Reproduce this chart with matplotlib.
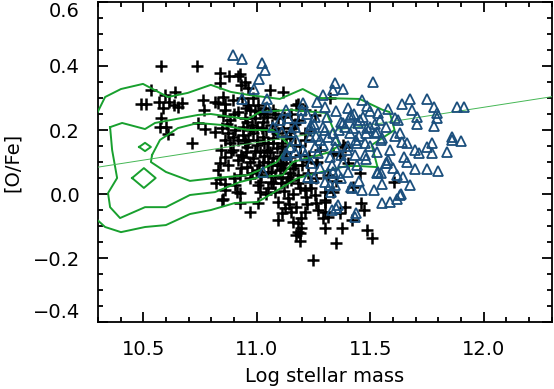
import numpy as np
import matplotlib
matplotlib.use("Agg")
import matplotlib.pyplot as plt
from matplotlib.ticker import MultipleLocator

plt.rcParams['font.family'] = ['DejaVu Sans']

# ---- data ----
# black crosses (log mass, [O/Fe])
cross_x = [
    10.577, 10.736, 10.533, 10.639, 10.595, 10.489, 10.511, 10.568, 10.612, 10.586,
    10.634, 10.652, 10.670, 10.577, 10.573, 10.599, 10.608, 10.714, 10.762, 10.767,
    10.815, 10.837, 10.877, 10.916, 10.837, 10.929, 10.850, 10.894, 10.859, 10.828,
    10.916, 10.850, 10.947, 10.740, 10.771, 10.815, 10.846, 10.872, 10.894, 10.859,
    10.916, 10.947, 10.841, 10.885, 10.929, 10.859, 10.819, 10.837, 10.846, 10.912,
    10.925, 10.837, 10.925, 10.947, 10.960, 11.057, 11.117, 11.171, 11.321, 11.387,
    10.934, 10.982, 11.004, 10.969, 11.013, 11.044, 11.070, 10.956, 10.991, 11.026,
    11.066, 11.114, 11.145, 11.158, 10.938, 10.982, 11.026, 11.070, 11.110, 11.145,
    10.956, 11.000, 11.044, 11.088, 11.123, 10.938, 10.982, 11.026, 11.070, 11.114,
    11.145, 10.956, 11.000, 11.048, 11.101, 11.145, 10.969, 11.013, 11.070, 11.132,
    11.220, 11.264, 11.334, 11.378, 11.365, 11.277, 10.859, 10.881, 10.903, 10.894,
    10.916, 10.872, 10.828, 10.925, 10.903, 10.859, 10.960, 11.035, 11.092, 11.022,
    10.978, 11.079, 10.947, 11.048, 11.167, 11.013, 11.066, 11.167, 11.189, 11.211,
    11.180, 11.233, 11.255, 11.211,
    11.092, 10.969, 11.004, 10.925, 11.013, 11.048, 11.061, 11.105, 11.092, 11.136,
    11.123, 11.149, 11.171, 11.211, 11.193, 11.158, 11.193, 11.171, 11.189, 11.246,
    11.347, 11.299, 11.290, 11.312, 11.299, 11.374, 11.484, 11.506, 11.471, 11.457,
    11.259, 11.215, 11.255, 11.299, 11.211, 11.180, 11.233, 11.180, 11.224, 11.259,
    11.400, 11.334, 11.422, 11.453, 11.312, 11.105, 11.061, 11.136, 11.004, 11.603,
    10.850, 11.189, 11.180, 11.299, 11.365,
    10.95, 10.99, 11.03, 11.08, 11.12, 10.94, 10.97, 11.00, 11.04, 11.09,
    11.13, 10.96, 11.00, 11.03, 11.07, 11.11, 10.95, 10.99, 11.03, 11.06,
    11.10, 11.13, 10.97, 11.01, 11.05, 11.09, 11.12, 11.16, 10.98, 11.02,
    11.08, 11.11, 11.15, 11.19, 11.04, 11.08, 11.12, 11.16, 11.14, 11.11,
    11.18, 11.22, 11.24, 11.20, 11.23, 11.19, 11.21, 11.17, 11.15, 11.18,
    10.90, 10.88, 10.87, 10.93, 10.90, 10.86, 11.26, 11.27, 11.30, 11.35,
    11.42, 11.39,
]
cross_y = [
    0.400, 0.400, 0.325, 0.319, 0.309, 0.281, 0.281, 0.288, 0.288, 0.269,
    0.278, 0.272, 0.284, 0.238, 0.209, 0.209, 0.188, 0.159, 0.294, 0.263,
    0.288, 0.378, 0.369, 0.369, 0.347, 0.341, 0.303, 0.294, 0.281, 0.284,
    0.256, 0.244, 0.238, 0.222, 0.203, 0.194, 0.206, 0.191, 0.178, 0.169,
    0.169, 0.159, 0.138, 0.131, 0.122, 0.116, 0.034, 0.047, -0.019, 0.006,
    -0.028, 0.097, 0.375, 0.350, 0.331, 0.325, 0.319, 0.278, 0.300, 0.147,
    0.300, 0.300, 0.278, 0.263, 0.253, 0.241, 0.263, 0.225, 0.238, 0.225,
    0.216, 0.206, 0.194, 0.206, 0.184, 0.191, 0.178, 0.175, 0.159, 0.175,
    0.147, 0.153, 0.138, 0.144, 0.131, 0.116, 0.113, 0.100, 0.113, 0.097,
    0.116, 0.084, 0.075, 0.069, 0.075, 0.066, 0.050, 0.038, 0.034, 0.038,
    0.100, 0.100, 0.128, 0.153, 0.122, 0.138, 0.263, 0.231, 0.200, 0.138,
    0.106, 0.091, 0.075, 0.059, 0.028, 0.013, 0.278, 0.269, 0.238, 0.206,
    0.216, 0.200, 0.169, 0.159, 0.153, 0.131, 0.091, 0.091, 0.122, 0.169,
    0.231, 0.200, 0.247, 0.263,
    -0.081, -0.056, -0.028, 0.003, 0.006, 0.019, 0.038, 0.034, -0.025, -0.013,
    -0.044, -0.056, -0.041, -0.056, -0.075, -0.088, -0.106, -0.128, -0.147, -0.206,
    -0.153, -0.106, -0.075, -0.072, -0.056, -0.106, -0.113, -0.138, -0.050, -0.028,
    -0.028, -0.009, -0.003, 0.006, 0.013, 0.034, 0.038, 0.059, 0.066, 0.097,
    0.097, 0.006, 0.022, 0.066, 0.059, 0.090, 0.069, 0.053, 0.028, 0.038,
    -0.016, -0.122, -0.119, -0.025, -0.059,
    0.27, 0.26, 0.25, 0.25, 0.24, 0.21, 0.20, 0.21, 0.20, 0.19,
    0.18, 0.17, 0.17, 0.16, 0.16, 0.15, 0.13, 0.135, 0.12, 0.13,
    0.12, 0.11, 0.10, 0.09, 0.10, 0.09, 0.08, 0.08, 0.065, 0.06,
    0.055, 0.05, 0.045, 0.02, 0.00, 0.005, 0.01, 0.00, -0.03, -0.06,
    -0.09, -0.03, 0.02, 0.09, 0.12, 0.15, 0.19, 0.22, 0.25, 0.28,
    0.25, 0.16, 0.22, 0.08, 0.05, 0.03, 0.05, -0.05, -0.02, 0.04,
    -0.08, -0.04,
]

# blue triangles
tri_x = [
    10.894, 10.934, 11.022, 11.035, 11.009, 10.987, 11.044, 10.934, 11.343, 11.378,
    11.334, 11.510, 11.462, 11.484, 11.290, 11.264, 11.299, 11.202, 11.576, 11.638,
    11.673, 11.752, 11.783, 11.880, 11.911, 11.686, 11.796, 11.704, 11.792, 11.704,
    11.783, 11.607, 11.532, 11.409, 11.453, 11.378, 11.422, 11.484, 11.528, 11.550,
    11.629, 11.638, 11.660, 11.858, 11.858, 11.902, 11.774, 11.752, 11.695, 11.713,
    11.774, 11.840, 11.647, 11.585, 11.576, 11.572, 11.695, 11.748, 11.800, 11.642,
    11.673, 11.629, 11.515, 11.462, 11.418, 11.321, 11.528, 11.202, 11.145, 11.132,
    11.277, 11.334, 11.321, 11.396, 11.440, 11.233, 11.290, 11.255, 11.198, 11.136,
    11.044, 11.546, 11.568, 11.616, 11.634, 11.616, 11.585, 11.550, 11.347, 11.330,
    11.356, 11.436, 11.431, 11.414, 11.326, 11.343, 11.312, 11.356, 11.369, 11.299,
    11.238, 11.167, 11.268, 11.431, 11.475, 11.400, 11.532, 11.127, 11.193, 11.238,
    11.149, 11.171, 11.233, 11.255, 11.369, 11.414, 11.387, 11.444, 11.497, 11.541,
    11.519, 11.546, 11.312, 11.290, 11.343, 11.436, 11.475, 11.127, 11.211, 11.110,
    11.026, 11.224, 11.334,
    11.22, 11.25, 11.31, 11.35, 11.40, 11.43, 11.47, 11.50, 11.52, 11.48,
    11.45, 11.41, 11.36, 11.30, 11.26, 11.35, 11.40, 11.50, 11.53, 11.48,
    11.44, 11.38, 11.33, 11.28, 11.25, 11.37, 11.45, 11.55, 11.60, 11.66,
    11.61, 11.57, 11.62, 11.17, 11.10, 11.07,
]
tri_y = [
    0.434, 0.422, 0.409, 0.388, 0.359, 0.328, 0.297, 0.297, 0.347, 0.328,
    0.325, 0.350, 0.294, 0.275, 0.309, 0.288, 0.272, 0.284, 0.266, 0.281,
    0.297, 0.297, 0.272, 0.272, 0.272, 0.263, 0.253, 0.241, 0.238, 0.219,
    0.213, 0.238, 0.253, 0.241, 0.231, 0.222, 0.206, 0.206, 0.194, 0.175,
    0.191, 0.163, 0.159, 0.178, 0.169, 0.166, 0.159, 0.147, 0.138, 0.128,
    0.128, 0.131, 0.116, 0.138, 0.106, 0.097, 0.078, 0.078, 0.072, 0.053,
    0.028, -0.003, 0.013, 0.013, 0.019, 0.028, 0.066, 0.138, 0.147, 0.122,
    0.169, 0.191, 0.116, 0.138, 0.159, 0.206, 0.209, 0.241, 0.263, 0.238,
    0.272, 0.066, 0.097, 0.059, 0.000, -0.016, -0.025, -0.028, -0.044, -0.050,
    -0.034, -0.059, -0.072, 0.022, 0.006, 0.028, 0.066, 0.066, 0.122, 0.038,
    0.097, 0.131, 0.128, 0.122, 0.122, 0.069, 0.069, 0.263, 0.238, 0.216,
    0.194, 0.169, 0.178, 0.147, 0.225, 0.247, 0.209, 0.222, 0.209, 0.231,
    0.191, 0.169, 0.178, 0.153, 0.147, 0.169, 0.159, 0.128, 0.122, 0.194,
    0.069, 0.053, 0.069,
    0.25, 0.22, 0.24, 0.26, 0.27, 0.25, 0.24, 0.26, 0.22, 0.19,
    0.18, 0.19, 0.20, 0.20, 0.18, 0.17, 0.15, 0.15, 0.13, 0.11,
    0.09, 0.10, 0.09, 0.08, 0.05, 0.05, 0.04, 0.03, 0.08, 0.10,
    0.18, 0.21, 0.23, 0.21, 0.23, 0.21,
]

# density contours (three levels + two small islands)
outer_x = [10.28, 10.331, 10.401, 10.498, 10.608, 10.696, 10.797, 10.885, 10.969, 11.101,
           11.202, 11.277, 11.453, 11.554, 11.585, 11.607, 11.506, 11.532, 11.453, 11.396,
           11.321, 11.268, 11.180, 11.092, 11.004, 10.903, 10.797, 10.705, 10.599, 10.507,
           10.401, 10.331, 10.28]
outer_y = [0.23, 0.303, 0.328, 0.344, 0.303, 0.316, 0.341, 0.319, 0.309, 0.297,
           0.328, 0.300, 0.297, 0.263, 0.256, 0.200, 0.153, 0.084, 0.0875, 0.0875,
           0.075, 0.066, 0.050, 0.0125, -0.025, -0.028, -0.050, -0.0625, -0.097, -0.103,
           -0.119, -0.103, -0.07]
middle_x = [10.353, 10.406, 10.507, 10.551, 10.740, 10.797, 10.885, 10.960, 11.013, 11.145,
            11.308, 11.365, 11.321, 11.158, 11.114, 11.013, 10.925, 10.815, 10.705, 10.599,
            10.507, 10.397, 10.353, 10.344, 10.384, 10.362, 10.353]
middle_y = [0.209, 0.222, 0.203, 0.222, 0.247, 0.250, 0.241, 0.234, 0.256, 0.263,
            0.253, 0.153, 0.131, 0.100, 0.059, 0.053, 0.0375, 0.006, -0.003, -0.041,
            -0.041, -0.075, -0.041, 0.003, 0.050, 0.1375, 0.209]
inner_x = [10.538, 10.573, 10.652, 10.740, 10.841, 10.960, 11.070, 11.145, 11.088, 11.013,
           10.960, 10.815, 10.705, 10.599, 10.533, 10.538]
inner_y = [0.122, 0.169, 0.206, 0.222, 0.216, 0.200, 0.200, 0.153, 0.100, 0.075,
           0.059, 0.050, 0.041, 0.069, 0.100, 0.122]
small_x = [10.481, 10.507, 10.533, 10.507, 10.481]
small_y = [0.147, 0.160, 0.147, 0.134, 0.147]
diamond_x = [10.450, 10.502, 10.554, 10.502, 10.450]
diamond_y = [0.050, 0.081, 0.050, 0.019, 0.050]

# linear fit line
fit_x = [10.3, 12.3]
fit_y = [0.084, 0.304]

green = '#18a02e'
blue = '#1b4f7d'

fig = plt.figure(figsize=(5.54, 3.89), dpi=100)
ax = fig.add_axes([0.177, 0.172, 0.819, 0.823])

for cx, cy in [(outer_x, outer_y), (middle_x, middle_y), (inner_x, inner_y),
               (small_x, small_y), (diamond_x, diamond_y)]:
    ax.plot(cx, cy, color=green, lw=1.4, zorder=3)

ax.plot(fit_x, fit_y, color='#45b755', lw=0.7, zorder=3)

ax.plot(cross_x, cross_y, ls='none', marker='+', ms=8, mew=1.8,
        color='black', zorder=2)
ax.plot(tri_x, tri_y, ls='none', marker='^', ms=7, mew=1.3,
        mfc='none', mec=blue, zorder=4)

ax.set_xlim(10.3, 12.3)
ax.set_ylim(-0.4, 0.6)
ax.xaxis.set_minor_locator(MultipleLocator(0.1))
ax.yaxis.set_minor_locator(MultipleLocator(0.05))
ax.set_xticks([10.5, 11.0, 11.5, 12.0])
ax.set_xticklabels(['10.5', '11.0', '11.5', '12.0'])
ax.set_yticks([-0.4, -0.2, 0.0, 0.2, 0.4, 0.6])
ax.set_yticklabels(['\u22120.4', '\u22120.2', '0.0', '0.2', '0.4', '0.6'])
ax.tick_params(which='both', direction='in', top=True, right=True,
               labelsize=14, width=1.3)
ax.tick_params(which='major', length=7)
ax.tick_params(which='minor', length=3.5)
ax.tick_params(axis='x', which='major', pad=13)
ax.tick_params(axis='y', which='major', pad=13)
ylabs = ax.get_yticklabels()
ylabs[-1].set_va('top')
ylabs[0].set_va('bottom')
for s in ax.spines.values():
    s.set_linewidth(1.3)

ax.set_xlabel('Log stellar mass', fontsize=14, labelpad=6)
ax.set_ylabel('[O/Fe]', fontsize=14, labelpad=8)

fig.savefig('out.png', dpi=100)
